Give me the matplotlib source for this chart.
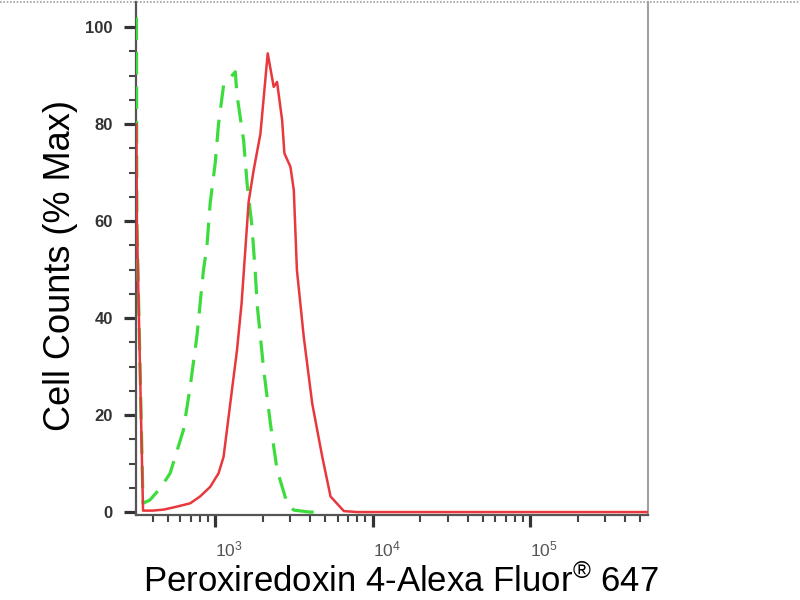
import matplotlib
matplotlib.use("Agg")
import matplotlib.pyplot as plt
from matplotlib.lines import Line2D
from matplotlib.ticker import FixedLocator, NullFormatter

# Red: sample (Peroxiredoxin 4)
red_x = [316, 318, 348, 400, 469, 550, 693, 800, 929, 1050, 1130, 1246, 1375, 1470,
         1552, 1630, 1754, 1936, 2155, 2351, 2470, 2660, 2749, 3003, 3155, 3300,
         3650, 4129, 4783, 5400, 6564, 8000, 20000, 100000, 560000]
red_y = [80, 60, 0.3, 0.3, 0.5, 1.0, 1.8, 3.2, 5.2, 8.0, 11.4, 22.4, 33.4, 43,
         54, 64, 70.5, 78, 94.6, 87.7, 88.7, 80.8, 74, 71.2, 66.4, 50,
         36.1, 22.4, 11.4, 3.2, 0.2, 0, 0, 0, 0]

# Green dashed: control
green_x = [316, 318, 348, 385, 450, 517, 628, 693, 764, 842, 885, 929, 1000, 1050,
           1130, 1341, 1375, 1514, 1593, 1713, 1798, 1844, 2032, 2240, 2470, 2861,
           3155, 4000, 5000]
green_y = [102, 60, 1.8, 2.5, 5, 8, 16.9, 25.8, 36.1, 49.9, 54.7, 63.7, 72, 80.1,
           88, 90.8, 86, 76.7, 67.8, 58.8, 49.2, 43, 29.3, 18.3, 8.7, 1.8,
           0.4, 0, 0]

y_ticks = [0, 20, 40, 60, 80, 100]
x_major = [1e3, 1e4, 1e5]
x_labels = [r"$10^3$", r"$10^4$", r"$10^5$"]

plt.rcParams['font.family'] = ['Liberation Sans', 'DejaVu Sans']
plt.rcParams['mathtext.fontset'] = 'custom'
plt.rcParams['mathtext.rm'] = 'Liberation Sans'
plt.rcParams['mathtext.it'] = 'Liberation Sans'

fig = plt.figure(figsize=(8, 6), dpi=100)
ax = fig.add_axes([0.17, 0.1417, 0.64, 0.855])

ax.plot(red_x, red_y, color='#e8383d', lw=1.8, zorder=3)
ax.plot(green_x, green_y, color='#3ddc3d', lw=2.3, ls=(0, (7.0, 3.8)), zorder=2.8)

ax.set_xscale('log')
ax.set_xlim(314, 5.6e5)
ax.set_ylim(-0.6, 105.2)

ax.xaxis.set_major_locator(FixedLocator(x_major))
ax.set_xticklabels(x_labels)
minors = []
for d in [100, 1000, 10000, 100000]:
    for k in range(2, 10):
        v = k * d
        if 314 < v < 5.6e5:
            minors.append(v)
ax.xaxis.set_minor_locator(FixedLocator(minors))
ax.xaxis.set_minor_formatter(NullFormatter())

ax.set_yticks(y_ticks)
ax.set_yticks([v for v in range(5, 105, 5) if v % 20 != 0], minor=True)

ax.tick_params(axis='both', which='major', direction='out', length=8.6, width=2.3,
               color='#333333', labelsize=12, labelcolor='#333333')
ax.tick_params(axis='both', which='minor', direction='out', length=5.2, width=1.5,
               color='#444444')
ax.tick_params(axis='y', which='major', pad=8)
ax.tick_params(axis='x', which='major', pad=9, labelcolor='#555555', labelsize=12.5)
for lab in ax.get_yticklabels():
    lab.set_fontweight('bold')
for lab in ax.get_xticklabels():
    lab.set_horizontalalignment('left')

ax.spines['left'].set_color('#555555')
ax.spines['left'].set_linewidth(1.6)
ax.spines['bottom'].set_color('#555555')
ax.spines['bottom'].set_linewidth(1.6)
ax.spines['right'].set_color('#a0a0a0')
ax.spines['right'].set_linewidth(1.5)
ax.spines['top'].set_visible(False)

fig.text(0.076, 0.557, "Cell Counts (% Max)", fontsize=26, color='black',
         rotation=90, ha='center', va='center')
fig.text(0.501, 0.03, "Peroxiredoxin 4-Alexa Fluor$^{\u00ae}$ 647", fontsize=25,
         color='black', ha='center', va='center')

# dotted border line across the top of the image
fig.add_artist(Line2D([0, 1], [0.996, 0.996], transform=fig.transFigure,
                      color='#a0a0a0', lw=1.2, ls=(0, (1, 1))))

fig.savefig("out.png", dpi=100)
